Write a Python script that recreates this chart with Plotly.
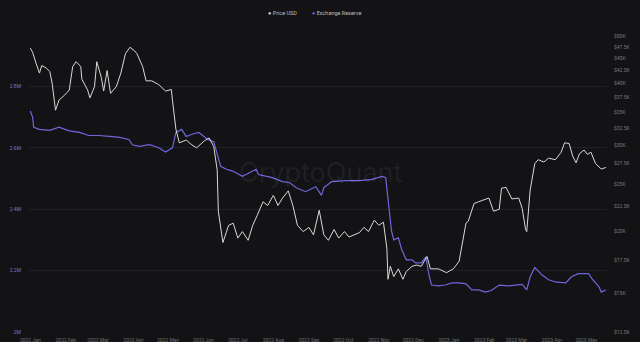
import numpy as np
import plotly.graph_objects as go

price_dates = [
    "2022-01-01", "2022-01-03", "2022-01-06", "2022-01-09", "2022-01-11", "2022-01-15", "2022-01-18",
    "2022-01-20", "2022-01-23", "2022-01-26", "2022-01-31", "2022-02-04", "2022-02-07", "2022-02-10",
    "2022-02-14", "2022-02-15", "2022-02-20", "2022-02-22", "2022-02-26", "2022-02-28", "2022-03-04",
    "2022-03-06", "2022-03-09", "2022-03-12", "2022-03-17", "2022-03-21", "2022-03-25", "2022-03-29",
    "2022-04-02", "2022-04-04", "2022-04-09", "2022-04-12", "2022-04-17", "2022-04-23", "2022-04-29",
    "2022-05-04", "2022-05-05", "2022-05-08", "2022-05-11", "2022-05-17", "2022-05-22", "2022-05-26",
    "2022-06-02", "2022-06-06", "2022-06-10", "2022-06-13", "2022-06-14", "2022-06-18", "2022-06-23",
    "2022-06-27", "2022-07-01", "2022-07-05", "2022-07-10", "2022-07-14", "2022-07-18", "2022-07-23",
    "2022-07-27", "2022-08-01", "2022-08-05", "2022-08-09", "2022-08-14", "2022-08-18", "2022-08-22",
    "2022-08-27", "2022-09-01", "2022-09-05", "2022-09-10", "2022-09-14", "2022-09-18", "2022-09-23",
    "2022-09-27", "2022-10-02", "2022-10-06", "2022-10-10", "2022-10-15", "2022-10-19", "2022-10-23",
    "2022-10-28", "2022-11-01", "2022-11-05", "2022-11-08", "2022-11-09", "2022-11-11", "2022-11-14",
    "2022-11-18", "2022-11-22", "2022-11-25", "2022-11-30", "2022-12-04", "2022-12-08", "2022-12-13",
    "2022-12-16", "2022-12-23", "2022-12-30", "2023-01-05", "2023-01-10", "2023-01-13", "2023-01-16",
    "2023-01-18", "2023-01-23", "2023-01-27", "2023-01-31", "2023-02-05", "2023-02-09", "2023-02-14",
    "2023-02-16", "2023-02-20", "2023-02-25", "2023-03-03", "2023-03-06", "2023-03-09", "2023-03-10",
    "2023-03-13", "2023-03-17", "2023-03-20", "2023-03-25", "2023-03-29", "2023-04-04", "2023-04-09",
    "2023-04-12", "2023-04-16", "2023-04-19", "2023-04-22", "2023-04-25", "2023-04-29", "2023-05-02",
    "2023-05-05", "2023-05-09", "2023-05-14", "2023-05-18",
]
price_usd = [
    47200, 46300, 44000, 42000, 43500, 43000, 42300,
    40100, 35300, 37000, 37900, 38800, 43300, 44300,
    43300, 40800, 38800, 37400, 39400, 44300, 41100,
    38600, 42500, 38200, 39400, 42000, 46000, 47400,
    46600, 46000, 43300, 40500, 40500, 39800, 38600,
    38900, 37000, 32300, 30300, 30700, 30000, 29600,
    30600, 31000, 29800, 26700, 22000, 19000, 20600,
    20800, 19400, 20000, 19200, 20600, 21600, 23000,
    22600, 23700, 22600, 23400, 24200, 22600, 20600,
    20000, 20400, 19700, 22100, 19700, 19200, 20200,
    19400, 20000, 19500, 19700, 19900, 20400, 20000,
    21100, 20600, 20900, 18500, 16000, 17000, 16200,
    16800, 16000, 16600, 17000, 17100, 17000, 17800,
    16800, 16800, 16500, 16800, 17400, 19000, 20800,
    21000, 22800, 23000, 23200, 23400, 22000, 22200,
    24500, 24600, 23300, 23400, 22300, 20200, 20000,
    24300, 27500, 28000, 27700, 28200, 28000, 29000,
    30300, 30200, 28500, 27600, 28800, 29300, 28700,
    29000, 27500, 26800, 27000,
]

reserve_dates = [
    "2022-01-01", "2022-01-03", "2022-01-04", "2022-01-09", "2022-01-18", "2022-01-26", "2022-02-04",
    "2022-02-13", "2022-02-21", "2022-03-02", "2022-03-11", "2022-03-20", "2022-03-28", "2022-03-31",
    "2022-04-06", "2022-04-15", "2022-04-23", "2022-04-29", "2022-05-05", "2022-05-08", "2022-05-13",
    "2022-05-17", "2022-05-22", "2022-05-28", "2022-06-02", "2022-06-06", "2022-06-10", "2022-06-13",
    "2022-06-16", "2022-06-21", "2022-06-26", "2022-07-05", "2022-07-17", "2022-07-19", "2022-07-31",
    "2022-08-09", "2022-08-15", "2022-08-21", "2022-08-29", "2022-09-07", "2022-09-12", "2022-09-14",
    "2022-09-21", "2022-10-03", "2022-10-15", "2022-10-26", "2022-11-04", "2022-11-07", "2022-11-10",
    "2022-11-12", "2022-11-14", "2022-11-18", "2022-11-21", "2022-11-25", "2022-11-30", "2022-12-03",
    "2022-12-08", "2022-12-12", "2022-12-15", "2022-12-17", "2022-12-23", "2022-12-29", "2023-01-04",
    "2023-01-10", "2023-01-16", "2023-01-21", "2023-01-27", "2023-02-02", "2023-02-07", "2023-02-14",
    "2023-02-22", "2023-03-03", "2023-03-06", "2023-03-10", "2023-03-13", "2023-03-17", "2023-03-23",
    "2023-03-29", "2023-04-04", "2023-04-13", "2023-04-18", "2023-04-24", "2023-04-29", "2023-05-03",
    "2023-05-06", "2023-05-12", "2023-05-14", "2023-05-18",
]
reserve_btc = [
    2.720, 2.700, 2.667, 2.660, 2.657, 2.667, 2.655,
    2.650, 2.640, 2.640, 2.637, 2.634, 2.627, 2.610,
    2.605, 2.610, 2.600, 2.586, 2.600, 2.650, 2.660,
    2.637, 2.644, 2.650, 2.635, 2.625, 2.620, 2.580,
    2.540, 2.530, 2.525, 2.507, 2.530, 2.513, 2.503,
    2.490, 2.487, 2.470, 2.457, 2.473, 2.445, 2.470,
    2.490, 2.493, 2.493, 2.497, 2.507, 2.503, 2.390,
    2.330, 2.300, 2.307, 2.268, 2.235, 2.235, 2.225,
    2.225, 2.245, 2.180, 2.153, 2.150, 2.153, 2.160,
    2.160, 2.157, 2.137, 2.137, 2.130, 2.135, 2.153,
    2.150, 2.153, 2.155, 2.137, 2.180, 2.210, 2.187,
    2.170, 2.163, 2.160, 2.180, 2.190, 2.190, 2.190,
    2.173, 2.147, 2.130, 2.137,
]
reserve_millions = [v * 1e6 for v in reserve_btc]

left_tickvals = [2.0e6, 2.2e6, 2.4e6, 2.6e6, 2.8e6, 3.0e6]
left_ticktext = ["2M", "2.2M", "2.4M", "2.6M", "2.8M", ""]
right_tickvals = [12500, 15000, 17500, 20000, 22500, 25000, 27500, 30000, 32500, 35000,
                  37500, 40000, 42500, 45000, 47500, 50000]
right_ticktext = ["$12.5K", "$15K", "$17.5K", "$20K", "$22.5K", "$25K", "$27.5K", "$30K",
                  "$32.5K", "$35K", "$37.5K", "$40K", "$42.5K", "$45K", "$47.5K", "$50K"]
month_ticks = ["2022-01-01", "2022-02-01", "2022-03-01", "2022-04-01", "2022-05-01", "2022-06-01",
               "2022-07-01", "2022-08-01", "2022-09-01", "2022-10-01", "2022-11-01", "2022-12-01",
               "2023-01-01", "2023-02-01", "2023-03-01", "2023-04-01", "2023-05-01"]
month_labels = ["2022 Jan", "2022 Feb", "2022 Mar", "2022 Apr", "2022 May", "2022 Jun",
                "2022 Jul", "2022 Aug", "2022 Sep", "2022 Oct", "2022 Nov", "2022 Dec",
                "2023 Jan", "2023 Feb", "2023 Mar", "2023 Apr", "2023 May"]
series_names = ["Price USD", "Exchange Reserve"]

BG = "#131316"
PURPLE = "#6f66dc"
WHITE = "#d9d9d9"

fig = go.Figure()
fig.add_trace(go.Scatter(
    x=price_dates, y=price_usd, name=series_names[0], mode="lines",
    line=dict(color=WHITE, width=1), yaxis="y2", showlegend=False,
))
fig.add_trace(go.Scatter(
    x=reserve_dates, y=reserve_millions, name=series_names[1], mode="lines",
    line=dict(color=PURPLE, width=1.2), yaxis="y", showlegend=False,
))

legend_font = dict(size=5.5, color="#bdbdbd", family="Roboto, Noto Sans, sans-serif")
annotations = [
    dict(text=f"<span style='color:{WHITE}'>●</span> {series_names[0]}",
         x=282, y=13, xref="paper", yref="paper", showarrow=False, font=legend_font),
    dict(text=f"<span style='color:{PURPLE}'>●</span> {series_names[1]}",
         x=336, y=13, xref="paper", yref="paper", showarrow=False, font=legend_font),
    dict(text="CryptoQuant", x=0.505, y=0.52, xref="paper", yref="paper",
         showarrow=False, font=dict(size=27, color="rgba(255,255,255,0.06)", family="Inter, sans-serif")),
]
# convert legend pixel positions to paper coordinates
plot_l, plot_w, plot_t, plot_h = 28, 579, 25, 307
for a in annotations[:2]:
    a["x"] = (a["x"] - plot_l) / plot_w
    a["y"] = (plot_t + plot_h - a["y"]) / plot_h
    a["xanchor"] = "center"
    a["yanchor"] = "middle"

fig.update_layout(
    width=640, height=342,
    margin=dict(l=28, r=33, t=25, b=10, autoexpand=False),
    paper_bgcolor=BG, plot_bgcolor=BG,
    font=dict(family="Roboto, Noto Sans, sans-serif", size=5, color="#8a8a8a"),
    showlegend=False,
    xaxis=dict(
        type="date", range=["2021-12-30", "2023-05-19"],
        tickvals=month_ticks, ticktext=month_labels, automargin=False,
        showgrid=False, zeroline=False, showline=False,
        tickfont=dict(size=5, color="#6f6f6f"), ticks="", ticklabelstandoff=4,
    ),
    yaxis=dict(
        range=[2.0e6, 3.0e6], tickvals=left_tickvals, ticktext=left_ticktext,
        showgrid=True, gridcolor="#1f1f24", gridwidth=1, zeroline=False, automargin=False,
        tickfont=dict(size=5, color="#7d77c8"), ticks="", side="left", ticklabelstandoff=6,
    ),
    yaxis2=dict(
        type="log", overlaying="y", side="right", automargin=False,
        range=[np.log10(12500), np.log10(52600)],
        tickvals=right_tickvals, ticktext=right_ticktext,
        showgrid=False, zeroline=False,
        tickfont=dict(size=5, color="#7a7a7a"), ticks="", ticklabelstandoff=6,
    ),
    annotations=annotations,
)

fig.write_html("out.html")
